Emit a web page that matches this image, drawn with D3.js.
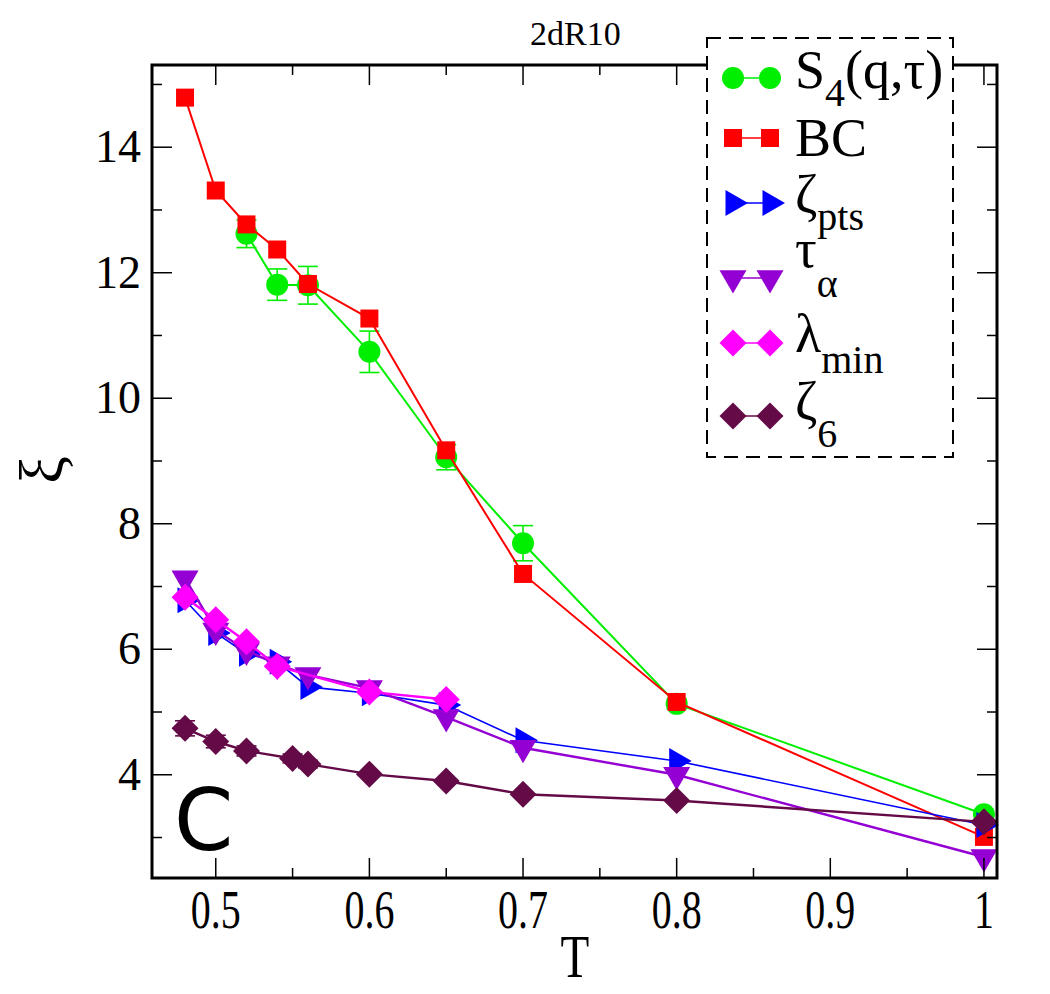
<!DOCTYPE html>
<html>
<head>
<meta charset="utf-8">
<script src="https://cdn.jsdelivr.net/npm/d3@7"></script>
<style>
  body { margin: 0; background: #fff; }
  svg text { font-family: "Liberation Serif", "Times New Roman", serif; }
</style>
</head>
<body>
<div id="chart"></div>
<script>
// values
const T_s4 = [0.52, 0.54, 0.56, 0.60, 0.65, 0.70, 0.80, 1.00];
const xi_s4 = [12.62, 11.81, 11.80, 10.74, 9.06, 7.69, 5.13, 3.37];
const err_s4 = [0.22, 0.25, 0.30, 0.33, 0.20, 0.28, 0.08, 0.05];

const T_bc = [0.48, 0.50, 0.52, 0.54, 0.56, 0.60, 0.65, 0.70, 0.80, 1.00];
const xi_bc = [14.79, 13.31, 12.77, 12.37, 11.82, 11.27, 9.17, 7.20, 5.16, 3.01];

const T_pts = [0.48, 0.50, 0.52, 0.54, 0.56, 0.60, 0.65, 0.70, 0.80, 1.00];
const xi_pts = [6.78, 6.26, 5.93, 5.80, 5.40, 5.30, 5.11, 4.55, 4.22, 3.20];

const T_tau = [0.48, 0.50, 0.52, 0.54, 0.56, 0.60, 0.65, 0.70, 0.80, 1.00];
const xi_tau = [7.13, 6.30, 5.98, 5.76, 5.59, 5.38, 4.92, 4.43, 4.00, 2.69];

const T_lam = [0.48, 0.50, 0.52, 0.54, 0.60, 0.65];
const xi_lam = [6.83, 6.47, 6.12, 5.73, 5.32, 5.20];

const T_z6 = [0.48, 0.50, 0.52, 0.55, 0.56, 0.60, 0.65, 0.70, 0.80, 1.00];
const xi_z6 = [4.74, 4.53, 4.38, 4.26, 4.17, 4.01, 3.90, 3.69, 3.59, 3.25];
const err_z6 = [0.12, 0.10, 0.08, 0.07, 0.06, 0.04, 0.04, 0.03, 0.03, 0.03];

const xTicks = [0.5, 0.6, 0.7, 0.8, 0.9, 1.0];
const xMinor = [0.55, 0.65, 0.75, 0.85, 0.95];
const yTicks = [4, 6, 8, 10, 12, 14];
const yMinor = [3, 5, 7, 9, 11, 13, 15];

const width = 1050, height = 994;
const margin = {left: 152, right: 53, top: 65, bottom: 116};

let svg = d3.select('#chart')
    .append('svg')
    .attr('width', width)
    .attr('height', height);

let x = d3.scaleLinear()
    .domain([0.4585, 1.0085])
    .range([margin.left, width - margin.right]);

let y = d3.scaleLinear()
    .domain([2.355, 15.31])
    .range([height - margin.bottom, margin.top]);

// marker shapes
function markerPath(shape, s) {
  if (shape == 'square') return `M${-s/2},${-s/2}h${s}v${s}h${-s}Z`;
  if (shape == 'diamond') return `M0,${-s/2}L${s/2},0L0,${s/2}L${-s/2},0Z`;
  let h = s * Math.sqrt(3) / 2;
  if (shape == 'tright') return `M${-h/3},${-s/2}L${2*h/3},0L${-h/3},${s/2}Z`;
  if (shape == 'tdown') return `M${-s/2},${-h/3}L${s/2},${-h/3}L0,${2*h/3}Z`;
  return d3.symbol(d3.symbolCircle, Math.PI * s * s / 4)();
}

const series = [
  {T: T_s4, v: xi_s4, err: err_s4, color: '#00ee00', lw: 2, shape: 'circle', size: 22},
  {T: T_bc, v: xi_bc, color: '#ff0000', lw: 2, shape: 'square', size: 18},
  {T: T_pts, v: xi_pts, color: '#0000ff', lw: 1.6, shape: 'tright', size: 26},
  {T: T_tau, v: xi_tau, color: '#9400d3', lw: 2.4, shape: 'tdown', size: 27},
  {T: T_lam, v: xi_lam, color: '#ff00ff', lw: 2.4, shape: 'diamond', size: 27},
  {T: T_z6, v: xi_z6, err: err_z6, color: '#630a47', lw: 2.4, shape: 'diamond', size: 27}
];

let line = d3.line().x(d => x(d[0])).y(d => y(d[1]));

series.forEach(s => {
  let pts = s.T.map((t, i) => [t, s.v[i], s.err ? s.err[i] : 0]);
  let g = svg.append('g');
  if (s.err) {
    let eb = g.selectAll('.eb').data(pts.filter(d => d[2] > 0.05)).enter().append('g')
        .attr('stroke', s.color).attr('stroke-width', 1.6);
    eb.append('line').attr('x1', d => x(d[0])).attr('x2', d => x(d[0]))
        .attr('y1', d => y(d[1] - d[2])).attr('y2', d => y(d[1] + d[2]));
    eb.append('line').attr('x1', d => x(d[0]) - 10).attr('x2', d => x(d[0]) + 10)
        .attr('y1', d => y(d[1] + d[2])).attr('y2', d => y(d[1] + d[2]));
    eb.append('line').attr('x1', d => x(d[0]) - 10).attr('x2', d => x(d[0]) + 10)
        .attr('y1', d => y(d[1] - d[2])).attr('y2', d => y(d[1] - d[2]));
  }
  g.append('path').datum(pts)
      .attr('fill', 'none').attr('stroke', s.color).attr('stroke-width', s.lw)
      .attr('d', line);
  g.selectAll('.m').data(pts).enter().append('path')
      .attr('transform', d => `translate(${x(d[0])},${y(d[1])})`)
      .attr('d', markerPath(s.shape, s.size))
      .attr('fill', s.color);
});

// frame and ticks
let x0 = margin.left, x1 = width - margin.right, y0 = height - margin.bottom, y1 = margin.top;
let axes = svg.append('g').attr('stroke', '#000');
axes.selectAll('.xt').data(xTicks).enter().append('g').each(function(d) {
  let g = d3.select(this);
  g.append('line').attr('x1', x(d)).attr('x2', x(d)).attr('y1', y0).attr('y2', y0 - 20).attr('stroke-width', 1.5);
  g.append('line').attr('x1', x(d)).attr('x2', x(d)).attr('y1', y1).attr('y2', y1 + 20).attr('stroke-width', 1.5);
});
axes.selectAll('.xm').data(xMinor).enter().append('g').each(function(d) {
  let g = d3.select(this);
  g.append('line').attr('x1', x(d)).attr('x2', x(d)).attr('y1', y0).attr('y2', y0 - 10).attr('stroke-width', 1.5);
  g.append('line').attr('x1', x(d)).attr('x2', x(d)).attr('y1', y1).attr('y2', y1 + 10).attr('stroke-width', 1.5);
});
axes.selectAll('.yt').data(yTicks).enter().append('g').each(function(d) {
  let g = d3.select(this);
  g.append('line').attr('x1', x0).attr('x2', x0 + 20).attr('y1', y(d)).attr('y2', y(d)).attr('stroke-width', 1.5);
  g.append('line').attr('x1', x1).attr('x2', x1 - 20).attr('y1', y(d)).attr('y2', y(d)).attr('stroke-width', 1.5);
});
axes.selectAll('.ym').data(yMinor).enter().append('g').each(function(d) {
  let g = d3.select(this);
  g.append('line').attr('x1', x0).attr('x2', x0 + 10).attr('y1', y(d)).attr('y2', y(d)).attr('stroke-width', 1.5);
  g.append('line').attr('x1', x1).attr('x2', x1 - 10).attr('y1', y(d)).attr('y2', y(d)).attr('stroke-width', 1.5);
});
svg.append('rect').attr('x', x0).attr('y', y1).attr('width', x1 - x0).attr('height', y0 - y1)
    .attr('fill', 'none').attr('stroke', '#000').attr('stroke-width', 3);

// tick labels
svg.selectAll('.xl').data(xTicks).enter().append('text')
    .attr('transform', d => `translate(${x(d)},928) scale(0.74,1)`)
    .attr('text-anchor', 'middle').style('font-size', '54px')
    .text(d => d == 1 ? '1' : d.toFixed(1));
svg.selectAll('.yl').data(yTicks).enter().append('text')
    .attr('x', 141).attr('y', d => y(d) + 15)
    .attr('text-anchor', 'end').style('font-size', '46px')
    .text(d => d);

// axis titles
svg.append('text')
    .attr('transform', 'translate(575,977) scale(0.76,1)')
    .attr('text-anchor', 'middle').style('font-size', '62px')
    .text('T');
svg.append('text')
    .attr('transform', 'translate(62,470) rotate(-90)')
    .attr('text-anchor', 'middle').style('font-size', '62px')
    .text('ξ');

svg.append('text')
    .attr('x', 530).attr('y', 45)
    .style('font-size', '34px')
    .text('2dR10');

svg.append('text')
    .attr('x', 174).attr('y', 850)
    .style('font-family', '"DejaVu Sans", sans-serif')
    .style('font-size', '85px')
    .text('C');

// legend
let legend = svg.append('g');
legend.append('rect')
    .attr('x', 707).attr('y', 38).attr('width', 246).attr('height', 419)
    .attr('fill', '#fff').attr('stroke', '#000').attr('stroke-width', 2)
    .attr('stroke-dasharray', '14,8');

const legRows = [
  {row: 78, main: 'S', sub: '4', tail: '(q,τ)', base: 88, shift: 18},
  {row: 138, main: 'BC', sub: '', tail: '', base: 156, shift: 0},
  {row: 203, main: 'ζ', sub: 'pts', tail: '', base: 213, shift: 17},
  {row: 278, main: 'τ', sub: 'α', tail: '', base: 267, shift: 30},
  {row: 343, main: 'λ', sub: 'min', tail: '', base: 352, shift: 21},
  {row: 416, main: 'ζ', sub: '6', tail: '', base: 420, shift: 27}
];

legRows.forEach((r, i) => {
  let s = series[i];
  legend.append('line').attr('x1', 733).attr('x2', 770).attr('y1', r.row).attr('y2', r.row)
      .attr('stroke', s.color).attr('stroke-width', 1.6);
  [733, 770].forEach(cx => legend.append('path')
      .attr('transform', `translate(${cx},${r.row})`)
      .attr('d', markerPath(s.shape, s.size))
      .attr('fill', s.color));
  let t = legend.append('text').attr('x', 795).attr('y', r.base).style('font-size', '54px');
  t.append('tspan').text(r.main);
  if (r.sub) t.append('tspan').attr('dy', r.shift).style('font-size', '40px').text(r.sub);
  if (r.tail) t.append('tspan').attr('dy', -r.shift).text(r.tail);
});
</script>
</body>
</html>
